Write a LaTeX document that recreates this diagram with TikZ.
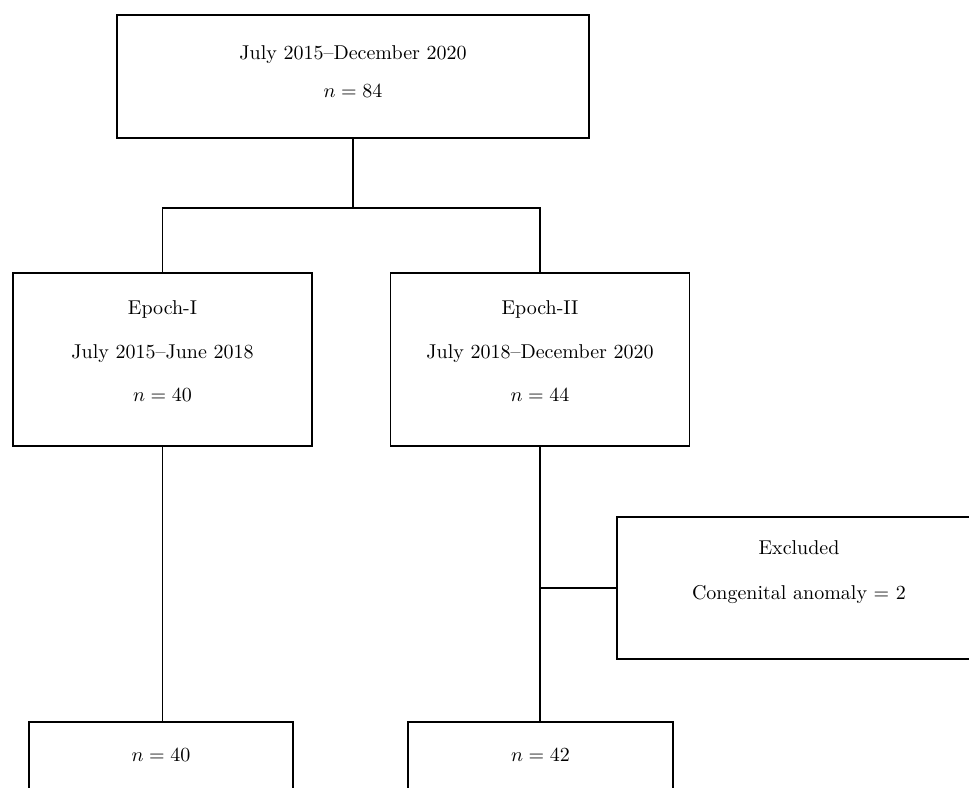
\documentclass[tikz,border=0pt]{standalone}
\usepackage{tikz}
\usetikzlibrary{positioning, calc}

\tikzset{
  flowbox/.style={draw=black, line width=0.7pt, inner sep=0pt},
  flowtext/.style={align=center, inner sep=0pt, font=\fontsize{10}{12}\selectfont},
  link/.style={draw=black, line width=0.7pt},
  exlink/.style={draw=black, line width=1.4pt}
}

\begin{document}
\begin{tikzpicture}[x=0.5pt, y=-0.5pt]
  \useasboundingbox (0,0) rectangle (969,787);
  \clip (0,0) rectangle (969,787);

  % Top
  \node[flowbox, minimum width=236pt, minimum height=61.5pt] (total) at (353,76.5) {};
  \node[flowtext] (totaltext) at (353,72) {July 2015--December 2020\\[7pt]$n = 84$};

  % Epochs
  \node[flowbox, minimum width=149.5pt, minimum height=86.5pt] (epochI) at (162.5,359.5) {};
  \node[flowtext] (epochItext) at (162.5,351.5) {Epoch-I\\[9.75pt]July 2015--June 2018\\[9.75pt]$n = 40$};

  \node[flowbox, minimum width=149.5pt, minimum height=86.5pt] (epochII) at (540,359.5) {};
  \node[flowtext] (epochIItext) at (540,351.5) {Epoch-II\\[9.75pt]July 2018--December 2020\\[9.75pt]$n = 44$};

  % Split
  \coordinate (split) at (353,208);
  \draw[link] (total.south) -- (split);
  \draw[link] (epochI.north) |- (split) -| (epochII.north);

  % Excluded
  \node[flowbox, minimum width=182pt, minimum height=71pt] (excluded) at (799,588) {};
  \node[flowtext] (excludedtext) at (799,572.5) {Excluded\\[10.5pt]Congenital anomaly = 2};

  % Final
  \node[flowbox, minimum width=132pt, minimum height=34pt] (finalI) at (161,756) {};
  \node[flowtext] (finalItext) at (161,755) {$n = 40$};

  \node[flowbox, minimum width=132.5pt, minimum height=34pt] (finalII) at (540.5,756) {};
  \node[flowtext] (finalIItext) at (540.5,755) {$n = 42$};

  % Links
  \draw[link] (epochI.south) -- (epochI.south |- finalI.north);
  \draw[link] (epochII.south) -- (epochII.south |- finalII.north);
  \coordinate (exjoin) at (epochII.south |- excluded.west);
  \draw[exlink] (exjoin) -- (excluded.west);
\end{tikzpicture}
\end{document}
